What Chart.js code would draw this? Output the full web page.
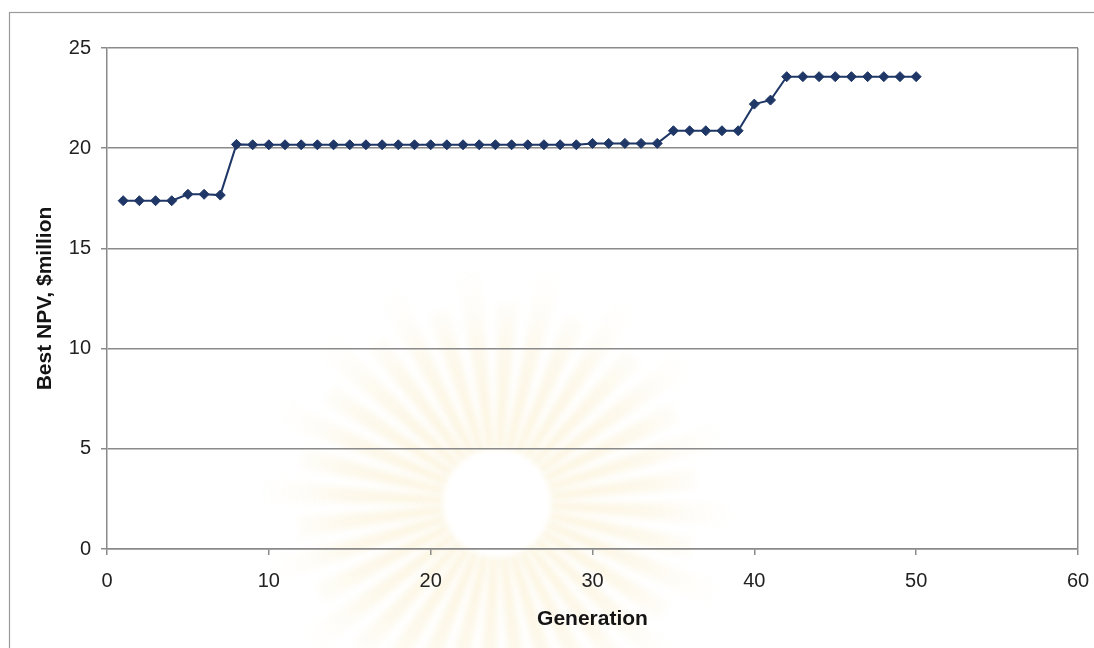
<!DOCTYPE html>
<html>
<head>
<meta charset="utf-8">
<script src="https://cdn.jsdelivr.net/npm/chart.js@4/dist/chart.umd.min.js"></script>
<style>
  html, body { margin: 0; padding: 0; background: #ffffff; }
  #wrap { width: 1094px; height: 648px; position: relative; }
</style>
</head>
<body>
<div id="wrap"><canvas id="c" width="1094" height="648"></canvas></div>
<script>
// Best NPV found at each generation of the search
const generations = [
  1, 2, 3, 4, 5, 6, 7, 8, 9, 10,
  11, 12, 13, 14, 15, 16, 17, 18, 19, 20,
  21, 22, 23, 24, 25, 26, 27, 28, 29, 30,
  31, 32, 33, 34, 35, 36, 37, 38, 39, 40,
  41, 42, 43, 44, 45, 46, 47, 48, 49, 50
];
const bestNpv = [
  17.38, 17.38, 17.38, 17.38, 17.70, 17.70, 17.66, 20.19, 20.17, 20.17,
  20.17, 20.17, 20.17, 20.17, 20.17, 20.17, 20.17, 20.17, 20.17, 20.17,
  20.17, 20.17, 20.17, 20.17, 20.17, 20.17, 20.17, 20.17, 20.17, 20.24,
  20.24, 20.24, 20.24, 20.24, 20.87, 20.87, 20.87, 20.87, 20.87, 22.20,
  22.40, 23.57, 23.57, 23.57, 23.57, 23.57, 23.57, 23.57, 23.57, 23.57
];
const xTicks = [0, 10, 20, 30, 40, 50, 60];
const yTicks = [0, 5, 10, 15, 20, 25];
const xTitle = 'Generation';
const yTitle = 'Best NPV, $million';

const points = generations.map((g, i) => ({ x: g, y: bestNpv[i] }));

const navy = '#1f3766';
const gridGray = '#8a8a8a';

// Faint sunburst emblem and the outer frame, painted under the chart
const backdrop = {
  id: 'backdrop',
  beforeDraw(chart) {
    const ctx = chart.ctx;
    ctx.save();
    ctx.fillStyle = '#ffffff';
    ctx.fillRect(0, 0, chart.width, chart.height);

    const cx = 497, cy = 503;
    ctx.filter = 'blur(3px)';
    const grad = ctx.createRadialGradient(cx, cy, 50, cx, cy, 240);
    grad.addColorStop(0, 'rgba(246, 228, 172, 0.45)');
    grad.addColorStop(0.55, 'rgba(248, 234, 192, 0.30)');
    grad.addColorStop(1, 'rgba(252, 245, 225, 0)');
    ctx.fillStyle = grad;
    const rays = 36;
    for (let i = 0; i < rays; i++) {
      const a0 = (i / rays) * Math.PI * 2;
      const a1 = a0 + (Math.PI * 2 / rays) * 0.6;
      const r = (i % 2 === 0) ? 240 : 200;
      ctx.beginPath();
      ctx.moveTo(cx + Math.cos(a0) * 50, cy + Math.sin(a0) * 50);
      ctx.lineTo(cx + Math.cos(a0) * r, cy + Math.sin(a0) * r);
      ctx.lineTo(cx + Math.cos(a1) * r, cy + Math.sin(a1) * r);
      ctx.lineTo(cx + Math.cos(a1) * 50, cy + Math.sin(a1) * 50);
      ctx.closePath();
      ctx.fill();
    }
    ctx.fillStyle = '#ffffff';
    ctx.beginPath();
    ctx.arc(cx, cy, 54, 0, Math.PI * 2);
    ctx.fill();
    ctx.filter = 'none';

    ctx.strokeStyle = '#9a9a9a';
    ctx.lineWidth = 1.2;
    ctx.strokeRect(9.5, 12.5, 1200, 800);
    ctx.restore();
  }
};

new Chart(document.getElementById('c'), {
  type: 'line',
  data: {
    datasets: [{
      data: points,
      borderColor: navy,
      borderWidth: 2,
      backgroundColor: navy,
      pointStyle: 'rectRot',
      pointRadius: 5,
      pointBorderWidth: 1,
      pointBorderColor: navy,
      pointBackgroundColor: navy,
      tension: 0
    }]
  },
  plugins: [backdrop],
  options: {
    responsive: false,
    animation: false,
    layout: { padding: { left: 0, right: 16, top: 48, bottom: 0 } },
    plugins: {
      legend: { display: false },
      tooltip: { enabled: false }
    },
    scales: {
      x: {
        type: 'linear',
        min: 0,
        max: 60,
        afterFit(scale) {
          scale.height = 99;
          scale.paddingLeft = 0;
          scale.paddingRight = 0;
        },
        afterBuildTicks(scale) { scale.ticks = xTicks.map(v => ({ value: v })); },
        border: { display: true, color: gridGray, width: 1.5 },
        grid: {
          drawOnChartArea: true,
          color: c => (c.tick && c.tick.value === 60) ? gridGray : 'rgba(0,0,0,0)',
          lineWidth: 1.5,
          tickColor: gridGray,
          tickLength: 6,
          drawTicks: true
        },
        ticks: {
          color: '#222222',
          padding: 14,
          font: { family: 'Liberation Sans, Arial, sans-serif', size: 20 }
        },
        title: {
          display: true,
          text: xTitle,
          color: '#141414',
          padding: { top: 0, bottom: 16 },
          font: { family: 'Liberation Sans, Arial, sans-serif', size: 21, weight: 'bold' }
        }
      },
      y: {
        type: 'linear',
        min: 0,
        max: 25,
        afterFit(scale) {
          scale.width = 107;
          scale.paddingTop = 0;
          scale.paddingBottom = 0;
        },
        afterBuildTicks(scale) { scale.ticks = yTicks.map(v => ({ value: v })); },
        border: { display: true, color: gridGray, width: 1.5 },
        grid: {
          color: gridGray,
          lineWidth: 1.5,
          tickColor: gridGray,
          tickLength: 6
        },
        ticks: {
          color: '#222222',
          padding: 10,
          font: { family: 'Liberation Sans, Arial, sans-serif', size: 20 }
        },
        title: {
          display: true,
          text: yTitle,
          color: '#141414',
          padding: { top: 33, bottom: 0 },
          font: { family: 'Liberation Sans, Arial, sans-serif', size: 21, weight: 'bold' }
        }
      }
    }
  }
});
</script>
</body>
</html>
